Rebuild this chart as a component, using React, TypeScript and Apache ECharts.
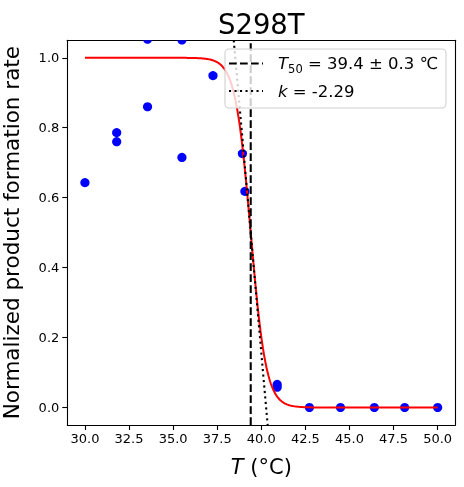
import React, { useEffect, useRef } from "react";
import * as echarts from "echarts";

const TITLE = "S298T";
const T50 = 39.4;
const T50_ERR = 0.3;
const K = -2.29;
const temps = [30.0, 31.8, 31.8, 33.55, 33.55, 35.5, 35.5, 37.26, 38.93, 39.07, 40.9, 40.9, 42.73, 44.49, 46.41, 48.13, 50.0];
const rates = [0.643, 0.786, 0.76, 0.86, 1.053, 0.715, 1.051, 0.949, 0.726, 0.618, 0.066, 0.058, 0, 0, 0, 0, 0];
const xTicks = [30, 32.5, 35, 37.5, 40, 42.5, 45, 47.5, 50];
const yTicks = [0, 0.2, 0.4, 0.6, 0.8, 1.0];
const X_MIN = 29;
const X_MAX = 51;
const Y_MIN = -0.05;
const Y_MAX = 1.05;
const FIT_START = 30;
const FIT_END = 50;

const FONT = "DejaVu Sans";

const frameAxis = {
  axisLine: { show: true, lineStyle: { color: "#000", width: 1.1 } },
  axisTick: { show: false },
  axisLabel: { show: false },
  splitLine: { show: false },
};

export default function App() {
  const ref = useRef<HTMLDivElement>(null);
  useEffect(() => {
    if (!ref.current) return;
    const chart = echarts.init(ref.current, undefined, { renderer: "svg" });

    // fitted sigmoid from the legend parameters
    const fit: number[][] = [];
    const steps = 400;
    for (let i = 0; i <= steps; i++) {
      const t = FIT_START + ((FIT_END - FIT_START) * i) / steps;
      fit.push([t, 1 / (1 + Math.exp(-K * (t - T50)))]);
    }
    const tangentAt = (y: number) => T50 + ((y - 0.5) * 4) / K;
    const tangent = [
      [tangentAt(Y_MAX), Y_MAX],
      [tangentAt(Y_MIN), Y_MIN],
    ];
    const vline = [
      [T50, Y_MIN],
      [T50, Y_MAX],
    ];
    const points = temps.map((t, i) => [t, rates[i]]);

    const legendT50 = `{i|T}{s|50}{n| = ${T50.toFixed(1)} ± ${T50_ERR.toFixed(1)} ℃}`;
    const legendK = `{i|k}{n| = ${K.toFixed(2)}}`;

    const richLegend = {
      n: { fontFamily: FONT, fontSize: 16.5, fill: "#000", lineHeight: 22 },
      i: { fontFamily: FONT, fontSize: 16.5, fontStyle: "italic", lineHeight: 22 },
      s: { fontFamily: FONT, fontSize: 11.5, lineHeight: 14, verticalAlign: "bottom" },
    };

    chart.setOption({
      animation: false,
      grid: {
        left: 67.3,
        right: 8.7,
        top: 40.3,
        bottom: 62,
        outerBoundsMode: "none",
        containLabel: false,
        show: false,
      },
      xAxis: [
        {
          type: "value",
          min: X_MIN,
          max: X_MAX,
          name: "{i|T} (°C)",
          nameLocation: "middle",
          nameGap: 31,
          nameTextStyle: {
            fontFamily: FONT,
            fontSize: 21,
            color: "#000",
            rich: { i: { fontFamily: FONT, fontSize: 21, fontStyle: "italic", color: "#000" } },
          },
          axisLine: { show: true, onZero: false, lineStyle: { color: "#000", width: 1.1 } },
          axisTick: { show: true, length: 5, inside: false, lineStyle: { color: "#000", width: 1.1 }, customValues: xTicks },
          axisLabel: {
            color: "#000",
            fontFamily: FONT,
            fontSize: 13,
            margin: 7,
            customValues: xTicks,
            formatter: (v: number) => v.toFixed(1),
          },
          splitLine: { show: false },
        },
        { type: "value", position: "top", min: X_MIN, max: X_MAX, ...frameAxis, axisLine: { show: true, onZero: false, lineStyle: { color: "#000", width: 1.1 } } },
      ],
      yAxis: [
        {
          type: "value",
          min: Y_MIN,
          max: Y_MAX,
          name: "Normalized product formation rate",
          nameLocation: "middle",
          nameGap: 45,
          nameTextStyle: { fontFamily: FONT, fontSize: 21.5, color: "#000" },
          axisLine: { show: true, onZero: false, lineStyle: { color: "#000", width: 1.1 } },
          axisTick: { show: true, length: 5, inside: false, lineStyle: { color: "#000", width: 1.1 }, customValues: yTicks },
          axisLabel: {
            color: "#000",
            fontFamily: FONT,
            fontSize: 13,
            margin: 8,
            customValues: yTicks,
            formatter: (v: number) => v.toFixed(1),
          },
          splitLine: { show: false },
        },
        { type: "value", position: "right", min: Y_MIN, max: Y_MAX, ...frameAxis, axisLine: { show: true, onZero: false, lineStyle: { color: "#000", width: 1.1 } } },
      ],
      series: [
        {
          type: "custom",
          name: "data",
          clip: true,
          z: 2,
          data: points,
          encode: { x: 0, y: 1 },
          renderItem: (_params: any, api: any) => {
            const p = api.coord([api.value(0), api.value(1)]);
            return {
              type: "circle",
              shape: { cx: p[0], cy: p[1], r: 4.6 },
              style: { fill: "#0000ff" },
            };
          },
        },
        {
          type: "line",
          name: "fit",
          data: fit,
          showSymbol: false,
          clip: true,
          z: 3,
          lineStyle: { color: "#ff0000", width: 2 },
        },
        {
          type: "line",
          name: "T50",
          data: vline,
          showSymbol: false,
          clip: true,
          z: 4,
          lineStyle: { color: "#000", width: 2.1, type: [7.7, 3.3] },
        },
        {
          type: "line",
          name: "k",
          data: tangent,
          showSymbol: false,
          clip: true,
          z: 4,
          lineStyle: { color: "#000", width: 2.1, type: [2.1, 3.4] },
        },
      ],
      graphic: [
        {
          type: "text",
          z: 100,
          x: 261.3,
          y: 23.5,
          style: {
            text: TITLE,
            fontFamily: FONT,
            fontSize: 27.5,
            fill: "#000",
            textAlign: "center",
            textVerticalAlign: "middle",
          },
        },
        {
          type: "rect",
          z: 100,
          shape: { x: 225, y: 49, width: 221, height: 59, r: 4 },
          style: { fill: "rgba(255,255,255,0.8)", stroke: "#d0d0d0", lineWidth: 1.1 },
        },
        {
          type: "line",
          z: 101,
          shape: { x1: 229, y1: 63.5, x2: 263, y2: 63.5 },
          style: { stroke: "#000", lineWidth: 2.1, lineDash: [7.7, 3.3] },
        },
        {
          type: "line",
          z: 101,
          shape: { x1: 229, y1: 91, x2: 263, y2: 91 },
          style: { stroke: "#000", lineWidth: 2.1, lineDash: [2.1, 3.4] },
        },
        {
          type: "text",
          z: 101,
          x: 278,
          y: 63.5,
          style: { text: legendT50, rich: richLegend, fill: "#000", textVerticalAlign: "middle", fontFamily: FONT, fontSize: 16.5 },
        },
        {
          type: "text",
          z: 101,
          x: 278,
          y: 91,
          style: { text: legendK, rich: richLegend, fill: "#000", textVerticalAlign: "middle", fontFamily: FONT, fontSize: 16.5 },
        },
      ],
    });
    return () => chart.dispose();
  }, []);
  return <div ref={ref} style={{ position: "fixed", left: 0, top: 0, width: 464, height: 487 }} />;
}
